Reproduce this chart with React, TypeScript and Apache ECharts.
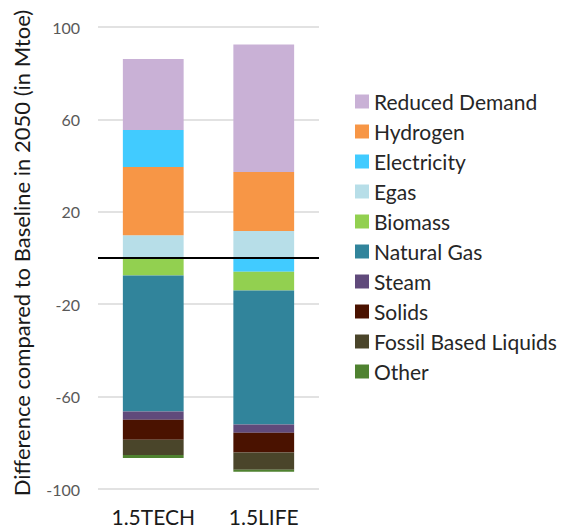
import React, { useEffect, useRef } from "react";
import * as echarts from "echarts";

const categories = ["1.5TECH", "1.5LIFE"];
const legendOrder = ["Reduced Demand", "Hydrogen", "Electricity", "Egas", "Biomass", "Natural Gas", "Steam", "Solids", "Fossil Based Liquids", "Other"];

const egas = [9.9, 11.7];
const hydrogen = [29.5, 25.5];
const electricity = [16, -5.9];
const biomass = [-7.6, -8.2];
const naturalGas = [-58.8, -58];
const steam = [-3.6, -3.6];
const solids = [-8.7, -8.5];
const fossilLiquids = [-6.6, -7.5];
const other = [-1.3, -0.8];
const reducedDemand = [30.8, 55.2];

const yMin = -100;
const yMax = 100;
const yStep = 40;

const seriesDefs = [
  { name: "Egas", data: egas, color: "#B7DEE8" },
  { name: "Hydrogen", data: hydrogen, color: "#F79646" },
  { name: "Electricity", data: electricity, color: "#41CBFF" },
  { name: "Biomass", data: biomass, color: "#92D050" },
  { name: "Natural Gas", data: naturalGas, color: "#31849B" },
  { name: "Steam", data: steam, color: "#604A7B" },
  { name: "Solids", data: solids, color: "#4A1200" },
  { name: "Fossil Based Liquids", data: fossilLiquids, color: "#4A452A" },
  { name: "Other", data: other, color: "#4F8230" },
  { name: "Reduced Demand", data: reducedDemand, color: "#C9B1D6" },
];

export default function App() {
  const ref = useRef<HTMLDivElement>(null);
  useEffect(() => {
    if (!ref.current) return;
    const chart = echarts.init(ref.current, null, { renderer: "svg" });
    const font = "Lato, 'Open Sans', sans-serif";
    chart.setOption({
      animation: false,
      textStyle: { fontFamily: font },
      grid: { left: 98, right: 244, top: 27, bottom: 42 },
      legend: {
        orient: "vertical",
        left: 350,
        top: 86,
        data: legendOrder,
        icon: "rect",
        itemWidth: 14,
        itemHeight: 14,
        itemGap: 9,
        textStyle: { fontSize: 21, color: "#262626", fontFamily: font },
      },
      xAxis: {
        type: "category",
        data: categories,
        axisLine: { show: false },
        axisTick: { show: false },
        axisLabel: { fontSize: 21, color: "#1a1a1a", margin: 17 },
      },
      yAxis: {
        type: "value",
        min: yMin,
        max: yMax,
        interval: yStep,
        name: "Difference compared to Baseline in 2050 (in Mtoe)",
        nameLocation: "middle",
        nameGap: 66,
        nameTextStyle: { fontSize: 22, color: "#1a1a1a", padding: [0, 0, 0, 10] },
        axisLine: { show: false },
        axisTick: { show: false },
        axisLabel: { fontSize: 16, color: "#595959", margin: 18 },
        splitLine: { lineStyle: { color: "#D9D9D9", width: 1.5 } },
      },
      series: seriesDefs.map((s, i) => ({
        name: s.name,
        type: "bar",
        stack: "total",
        data: s.data,
        barWidth: "55%",
        itemStyle: { color: s.color },
        markLine:
          i === seriesDefs.length - 1
            ? {
                silent: true,
                symbol: "none",
                label: { show: false },
                lineStyle: { color: "#000", width: 2, type: "solid" },
                data: [{ yAxis: 0 }],
              }
            : undefined,
      })),
    });
    return () => chart.dispose();
  }, []);
  return <div ref={ref} style={{ width: 563, height: 531, position: "absolute", left: 0, top: 0, background: "#fff" }} />;
}
